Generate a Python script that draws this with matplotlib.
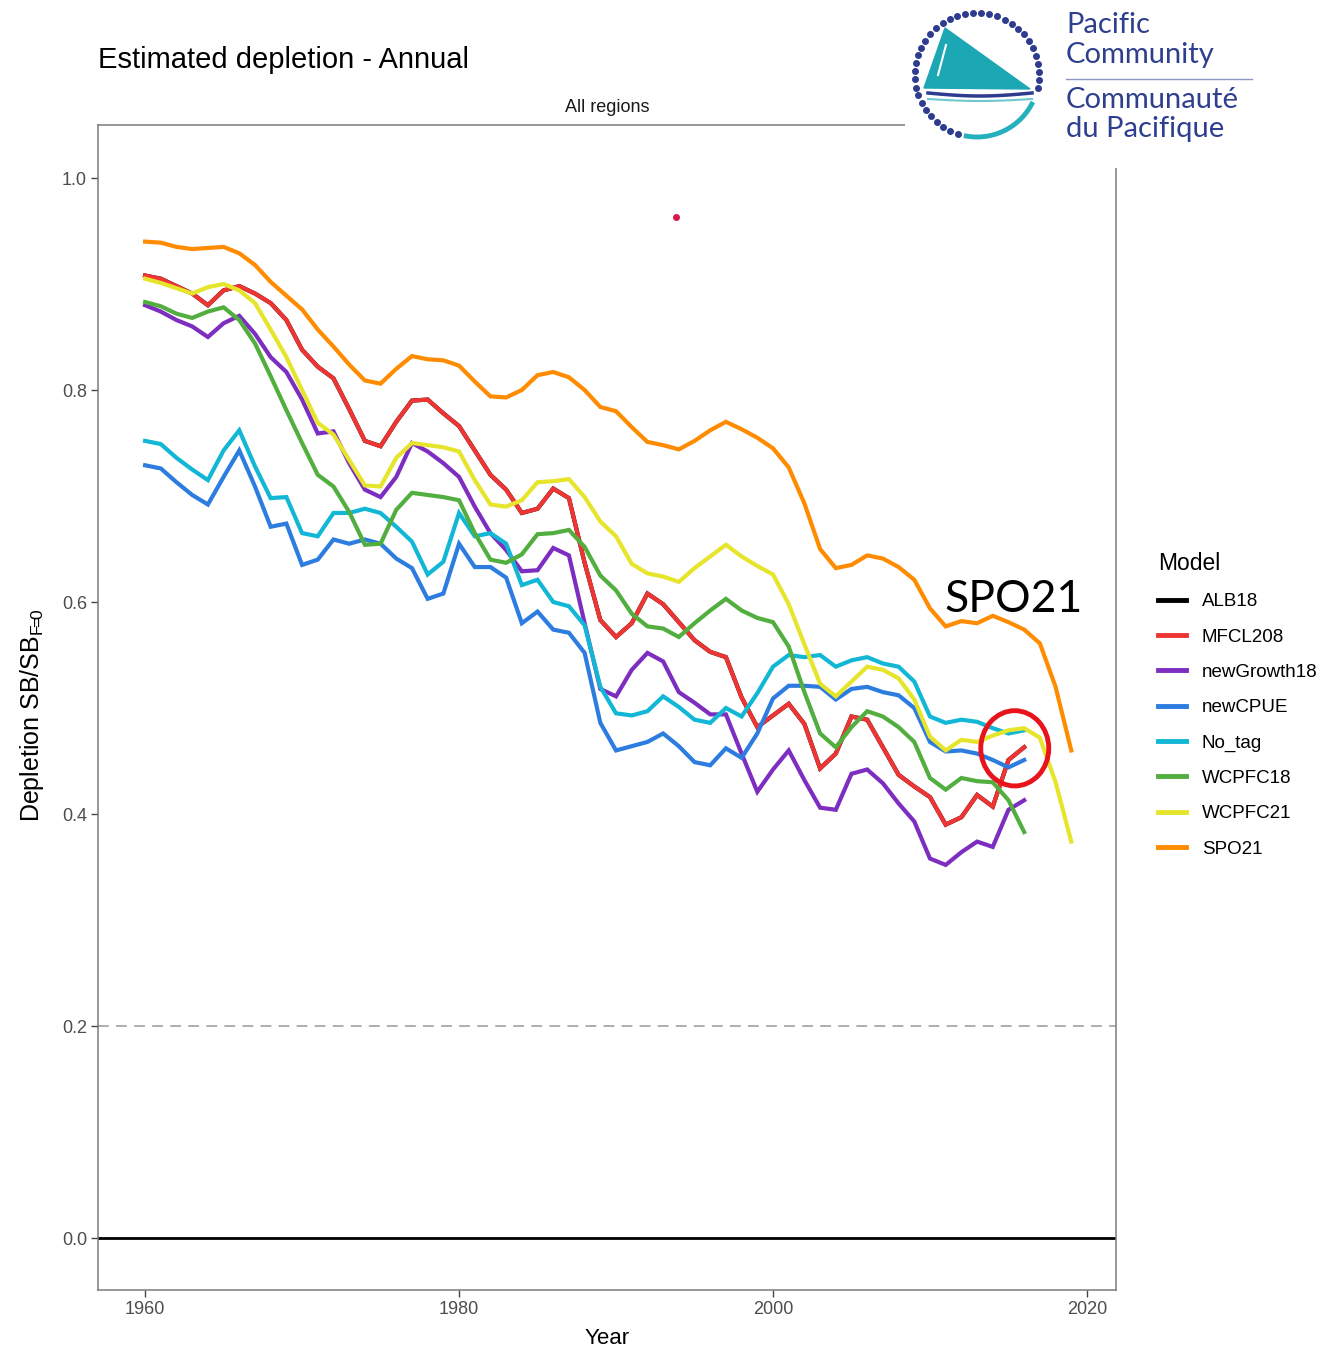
import numpy as np
import matplotlib.pyplot as plt
from matplotlib.patches import Ellipse, Polygon
from matplotlib.lines import Line2D

plt.rcParams['font.family'] = ['Liberation Sans', 'DejaVu Sans']
plt.rcParams['mathtext.default'] = 'regular'

W, H = 1327, 1350

# model runs end in 2016, the two newest ones in 2019
years = np.arange(1960, 2017)
years_long = np.arange(1960, 2020)

mfcl208 = [0.908, 0.905, 0.898, 0.891, 0.880, 0.894, 0.898, 0.891, 0.882, 0.866,
           0.838, 0.822, 0.811, 0.782, 0.752, 0.747, 0.770, 0.790, 0.791, 0.778,
           0.766, 0.743, 0.720, 0.706, 0.684, 0.688, 0.707, 0.698, 0.637, 0.583,
           0.567, 0.580, 0.608, 0.598, 0.581, 0.564, 0.553, 0.548, 0.510, 0.482,
           0.493, 0.504, 0.485, 0.443, 0.457, 0.492, 0.489, 0.463, 0.437, 0.426,
           0.416, 0.390, 0.397, 0.418, 0.407, 0.451, 0.463]
# ALB18 sits right under MFCL208
alb18 = list(mfcl208)
new_growth18 = [0.880, 0.874, 0.866, 0.860, 0.850, 0.863, 0.870, 0.853, 0.831, 0.817,
                0.791, 0.759, 0.761, 0.731, 0.706, 0.699, 0.718, 0.750, 0.742, 0.731,
                0.718, 0.690, 0.665, 0.649, 0.629, 0.630, 0.651, 0.644, 0.580, 0.518,
                0.511, 0.536, 0.552, 0.544, 0.515, 0.505, 0.494, 0.494, 0.457, 0.421,
                0.442, 0.460, 0.432, 0.406, 0.404, 0.438, 0.442, 0.429, 0.410, 0.393,
                0.358, 0.352, 0.364, 0.374, 0.369, 0.404, 0.413]
new_cpue = [0.729, 0.726, 0.713, 0.701, 0.692, 0.718, 0.743, 0.709, 0.671, 0.674,
            0.635, 0.640, 0.659, 0.655, 0.659, 0.655, 0.641, 0.632, 0.603, 0.608,
            0.655, 0.633, 0.633, 0.623, 0.580, 0.591, 0.574, 0.571, 0.552, 0.486,
            0.460, 0.464, 0.468, 0.476, 0.464, 0.449, 0.446, 0.462, 0.453, 0.476,
            0.509, 0.521, 0.521, 0.520, 0.508, 0.518, 0.520, 0.515, 0.512, 0.500,
            0.468, 0.459, 0.460, 0.457, 0.451, 0.444, 0.451]
no_tag = [0.752, 0.749, 0.736, 0.725, 0.715, 0.743, 0.762, 0.728, 0.698, 0.699,
          0.665, 0.662, 0.684, 0.684, 0.688, 0.684, 0.671, 0.657, 0.626, 0.638,
          0.684, 0.662, 0.665, 0.655, 0.616, 0.621, 0.600, 0.596, 0.578, 0.520,
          0.495, 0.493, 0.497, 0.511, 0.501, 0.489, 0.486, 0.500, 0.492, 0.514,
          0.539, 0.550, 0.548, 0.550, 0.539, 0.545, 0.548, 0.542, 0.539, 0.525,
          0.492, 0.486, 0.489, 0.487, 0.481, 0.476, 0.479]
wcpfc18 = [0.883, 0.879, 0.872, 0.868, 0.874, 0.878, 0.866, 0.844, 0.813, 0.781,
           0.750, 0.720, 0.709, 0.685, 0.654, 0.655, 0.687, 0.703, 0.701, 0.699,
           0.696, 0.665, 0.640, 0.637, 0.645, 0.664, 0.665, 0.668, 0.652, 0.625,
           0.611, 0.589, 0.577, 0.575, 0.567, 0.580, 0.592, 0.603, 0.592, 0.585,
           0.581, 0.558, 0.515, 0.476, 0.463, 0.482, 0.497, 0.492, 0.482, 0.468,
           0.434, 0.423, 0.434, 0.431, 0.430, 0.413, 0.383]
wcpfc21 = [0.905, 0.901, 0.896, 0.891, 0.897, 0.900, 0.894, 0.882, 0.857, 0.831,
           0.800, 0.769, 0.758, 0.734, 0.710, 0.709, 0.736, 0.750, 0.748, 0.746,
           0.742, 0.715, 0.692, 0.690, 0.696, 0.713, 0.714, 0.716, 0.699, 0.676,
           0.662, 0.636, 0.627, 0.624, 0.619, 0.632, 0.643, 0.654, 0.643, 0.634,
           0.626, 0.598, 0.560, 0.523, 0.511, 0.525, 0.539, 0.536, 0.528, 0.508,
           0.473, 0.460, 0.470, 0.468, 0.474, 0.479, 0.481, 0.472, 0.430, 0.374]
spo21 = [0.940, 0.939, 0.935, 0.933, 0.934, 0.935, 0.929, 0.918, 0.902, 0.889,
         0.876, 0.857, 0.841, 0.824, 0.809, 0.806, 0.820, 0.832, 0.829, 0.828,
         0.823, 0.808, 0.794, 0.793, 0.800, 0.814, 0.817, 0.812, 0.800, 0.784,
         0.780, 0.765, 0.751, 0.748, 0.744, 0.752, 0.762, 0.770, 0.763, 0.755,
         0.745, 0.727, 0.693, 0.650, 0.632, 0.635, 0.644, 0.641, 0.633, 0.621,
         0.594, 0.577, 0.582, 0.580, 0.587, 0.581, 0.574, 0.561, 0.520, 0.460]

models = ['ALB18', 'MFCL208', 'newGrowth18', 'newCPUE', 'No_tag',
          'WCPFC18', 'WCPFC21', 'SPO21']
colors = ['#000000', '#ef3434', '#7d2dbf', '#2d7ce0', '#12b7d6',
          '#52ae3e', '#e6e52c', '#ff8c00']
series = [alb18, mfcl208, new_growth18, new_cpue, no_tag, wcpfc18, wcpfc21, spo21]

ref_levels = [0.2, 0.0]
highlight_year, highlight_val = 2015.4, 0.462
dot_year, dot_val = 1993.8, 0.963

fig = plt.figure(figsize=(W / 100, H / 100), dpi=100)
ax = fig.add_axes([98 / W, 1 - 1290 / H, (1116 - 98) / W, (1290 - 125) / H])

ax.axhline(ref_levels[0], color='#a8a8a8', lw=1.3, ls=(0, (6, 4)), zorder=1)
ax.axhline(ref_levels[1], color='black', lw=2, zorder=1)

for name, col, vals in zip(models, colors, series):
    x = years_long if len(vals) == len(years_long) else years
    ax.plot(x, vals, color=col, lw=3, solid_joinstyle='miter', zorder=2)

ax.plot(dot_year, dot_val, 'o', color='#d8174a', ms=4, zorder=3)

ax.add_patch(Ellipse((highlight_year, highlight_val), width=4.33, height=0.071,
                     fill=False, ec='#e8141b', lw=3.5, zorder=4))
ax.text(2015.3, 0.602, 'SPO21', fontsize=32, family=['Lato', 'DejaVu Sans'],
        ha='center', va='center', zorder=4)

ax.set_xlim(1957.0, 2021.85)
ax.set_ylim(-0.049, 1.050)
ax.set_xticks([1960, 1980, 2000, 2020])
ax.set_yticks([0.0, 0.2, 0.4, 0.6, 0.8, 1.0])
ax.set_yticklabels(['%.1f' % v for v in [0.0, 0.2, 0.4, 0.6, 0.8, 1.0]])
ax.tick_params(direction='out', length=5, width=1, color='#444444',
               labelcolor='#4d4d4d', labelsize=13, pad=3)
for s in ax.spines.values():
    s.set_color('#7a7a7a')
    s.set_linewidth(1.1)

fig.text(98 / W, 1 - 60 / H, 'Estimated depletion - Annual', fontsize=21,
         ha='left', va='center')
fig.text(607 / W, 1 - 107 / H, 'All regions', fontsize=13, ha='center',
         va='center', color='#1a1a1a')
fig.text(607 / W, 1 - 1338 / H, 'Year', fontsize=16, ha='center', va='center')
fig.text(32 / W, 1 - 715 / H, r'Depletion SB/SB$_{F\!\!=\!\!0}$', fontsize=18,
         rotation=90, ha='center', va='center')

handles = [Line2D([], [], color=c, lw=3.5) for c in colors]
leg = fig.legend(handles, models, loc='upper left',
                 bbox_to_anchor=(1141 / W, 1 - 535 / H), frameon=False,
                 title='Model', fontsize=13.5, title_fontsize=16.5,
                 handlelength=1.5, handletextpad=0.85, labelspacing=0.97,
                 alignment='left')

# logo block in the top right corner, drawn in pixel units
lax = fig.add_axes([905 / W, 1 - 168 / H, (W - 905) / W, 168 / H])
lax.set_xlim(905, W)
lax.set_ylim(168, 0)
lax.set_facecolor('white')
lax.set_xticks([])
lax.set_yticks([])
for s in lax.spines.values():
    s.set_visible(False)

cx, cy, r = 977, 75, 62
ang = np.radians(np.linspace(-12, 252, 36))
lax.plot(cx + r * np.cos(ang), cy - r * np.sin(ang), 'o', color='#2e3b8f', ms=4)
arc = np.radians(np.linspace(-100, -28, 30))
lax.plot(cx + r * np.cos(arc), cy - r * np.sin(arc), color='#25b0bd', lw=3.5)
lax.add_patch(Polygon([(945, 28), (924, 88), (1030, 89)], closed=True,
                      color='#1ca7b5'))
wx = np.linspace(928, 1032, 40)
lax.plot(wx, 93 + 3 * np.sin((wx - 928) / 104 * np.pi), color='#2e3b8f', lw=2.5)
lax.plot(wx, 99 + 2 * np.sin((wx - 928) / 104 * np.pi), color='#6fc7d0', lw=1.5)
lax.plot([946, 938], [45, 75], color='white', lw=1.5)

logo_font = ['Lato', 'DejaVu Sans']
lax.text(1066, 25, 'Pacific', fontsize=21, color='#2f3f8f', va='center',
         family=logo_font)
lax.text(1066, 55, 'Community', fontsize=21, color='#2f3f8f', va='center',
         family=logo_font)
lax.plot([1066, 1252], [79, 79], color='#8d97c2', lw=1)
lax.text(1066, 100, 'Communauté', fontsize=21, color='#2f3f8f', va='center',
         family=logo_font)
lax.text(1066, 129, 'du Pacifique', fontsize=21, color='#2f3f8f', va='center',
         family=logo_font)

fig.savefig('out.png', dpi=100, facecolor='white')
